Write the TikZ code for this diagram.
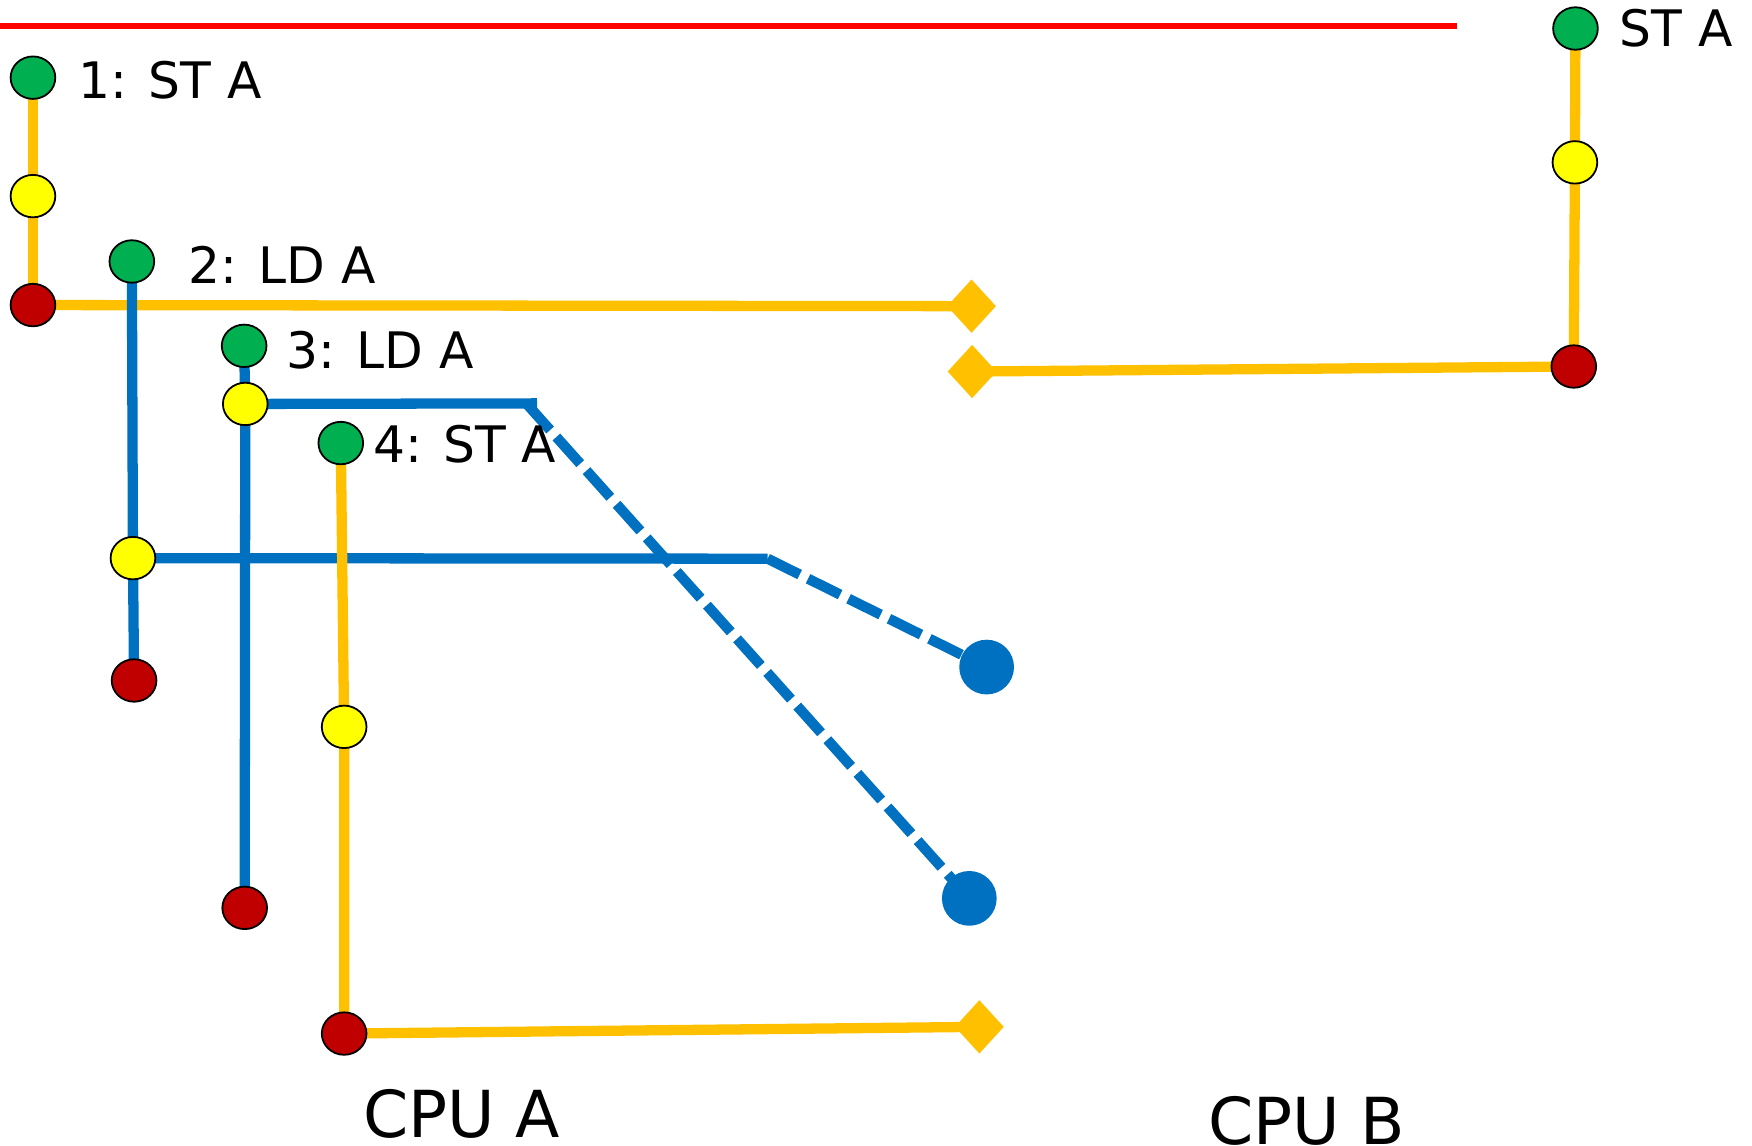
\documentclass[tikz,border=0pt]{standalone}
\usepackage{fontspec}
\setmainfont{DejaVu Sans}
\usetikzlibrary{shapes.geometric}
\definecolor{gold}{HTML}{FFC000}
\definecolor{bluel}{HTML}{0070C0}
\definecolor{grn}{HTML}{00B050}
\definecolor{dred}{HTML}{C00000}
\definecolor{yel}{HTML}{FFFF00}
\definecolor{redline}{HTML}{FF0000}
\pgfdeclarelayer{back}
\pgfsetlayers{back,main}
\begin{document}
\begin{tikzpicture}[x=0.5pt,y=-0.5pt,
 dot/.style={ellipse,draw=black,line width=0.8pt,minimum width=20pt,minimum height=19pt,inner sep=0pt},
 gdot/.style={dot,fill=grn},
 ydot/.style={dot,fill=yel},
 rdot/.style={dot,fill=dred},
 dia/.style={diamond,fill=gold,minimum width=22pt,minimum height=24pt,inner sep=0pt},
 bdot/.style={circle,fill=bluel,minimum size=24.5pt,inner sep=0pt},
 oline/.style={draw=gold,line width=4.6pt},
 bline/.style={draw=bluel,line width=4.6pt},
 bdash/.style={bline,dash pattern=on 16pt off 4.2pt},
 lbl/.style={anchor=base west,inner sep=0pt,font=\fontsize{22.5pt}{27pt}\selectfont},
 cpu/.style={anchor=base west,inner sep=0pt,font=\fontsize{29pt}{34pt}\selectfont}]
\useasboundingbox (0,0) rectangle (1568,1025);

% CPU A, instruction 1
\node[gdot] (g1) at (29.5,69.5) {};
\node[ydot] (y1) at (29.5,175.5) {};
\node[rdot] (r1) at (29.5,273) {};
\node[dia]  (dA1) at (869.5,274) {};
% instruction 2
\node[gdot] (g2) at (118,234) {};
\node[ydot] (y2) at (119,499.5) {};
\node[rdot] (r2) at (120,609) {};
\coordinate (c2) at (687,500);
\node[bdot] (b1) at (883,597) {};
% instruction 3
\node[gdot] (g3) at (218.5,309.5) {};
\node[ydot] (y3) at (219.5,361.5) {};
\node[rdot] (r3) at (219,812.5) {};
\coordinate (c3) at (480.6,361);
\coordinate (c3b) at (471,361);
\node[bdot] (b2) at (867.5,804) {};
% instruction 4
\node[gdot] (g4) at (305,396.5) {};
\node[ydot] (y4) at (308,650.5) {};
\node[rdot] (r4) at (308,925) {};
\node[dia]  (dA4) at (876.5,919) {};
% CPU B
\node[gdot] (gB) at (1410,25.5) {};
\node[ydot] (yB) at (1409.5,145.3) {};
\node[rdot] (rB) at (1408.5,328) {};
\node[dia]  (dB) at (870,332.5) {};

\coordinate (rl0) at (0,23);
\coordinate (rl1) at (1304,23);

\begin{pgfonlayer}{back}
\draw[draw=redline,line width=2.7pt] (rl0) -- (rl1);
\draw[oline] (g1.center) -- (y1.center) -- (r1.center);
\draw[oline] (r1.center) -- (dA1.center);
\draw[bline] (g2.center) -- (y2.center) -- (r2.center);
\draw[bline] (y2.center) -- (c2);
\draw[bdash] (c2) -- (b1.center);
\draw[bline] (g3.center) -- (y3.center) -- (r3.center);
\draw[bline] (y3.center) -- (c3);
\draw[bdash] (c3b) -- (b2.center);
\draw[oline] (g4.center) -- (y4.center) -- (r4.center);
\draw[oline] (r4.center) -- (dA4.center);
\draw[oline] (gB.center) -- (yB.center) -- (rB.center);
\draw[oline] (rB.center) -- (dB.center);
\end{pgfonlayer}

\node[lbl] (t1) at (70,88) {1: ST A};
\node[lbl] (t2) at (168,253.5) {2: LD A};
\node[lbl] (t3) at (256,329.5) {3: LD A};
\node[lbl] (t4) at (333.5,413.5) {4: ST A};
\node[lbl] (tB) at (1449,42) {ST A};
\node[cpu] (cpuA) at (325,1018) {CPU A};
\node[cpu] (cpuB) at (1081,1024) {CPU B};
\end{tikzpicture}
\end{document}
